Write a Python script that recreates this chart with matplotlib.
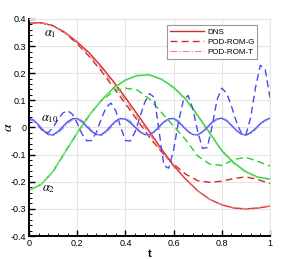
import matplotlib
matplotlib.use("Agg")
import matplotlib.pyplot as plt
from matplotlib.ticker import MultipleLocator

plt.rcParams['font.family'] = ['Liberation Sans', 'DejaVu Sans']
plt.rcParams['mathtext.fontset'] = 'stix'

# coarse time grid for the smooth modes, fine grid for the a10 mode
t_c = [0.0, 0.05, 0.1, 0.15, 0.2, 0.25, 0.3, 0.35, 0.4, 0.45, 0.5,
       0.55, 0.6, 0.65, 0.7, 0.75, 0.8, 0.85, 0.9, 0.95, 1.0]
t_f = [i / 50 for i in range(51)]

# a1
a1_dns = [0.385, 0.386, 0.375, 0.350, 0.315, 0.275, 0.225, 0.170, 0.110, 0.048, -0.015,
          -0.080, -0.140, -0.190, -0.233, -0.265, -0.285, -0.297, -0.300, -0.297, -0.290]
a1_g = [0.385, 0.386, 0.375, 0.348, 0.308, 0.262, 0.208, 0.148, 0.088, 0.026, -0.036,
        -0.090, -0.135, -0.172, -0.196, -0.202, -0.198, -0.188, -0.182, -0.192, -0.207]
a1_t = [0.385, 0.386, 0.374, 0.348, 0.311, 0.268, 0.216, 0.160, 0.100, 0.038, -0.024,
        -0.087, -0.145, -0.193, -0.234, -0.265, -0.284, -0.296, -0.299, -0.296, -0.289]

# a2
a2_dns = [-0.232, -0.210, -0.162, -0.090, -0.020, 0.045, 0.100, 0.145, 0.175, 0.192, 0.194,
          0.178, 0.148, 0.105, 0.045, -0.020, -0.085, -0.130, -0.163, -0.183, -0.190]
a2_g = [-0.232, -0.210, -0.162, -0.090, -0.020, 0.045, 0.098, 0.133, 0.145, 0.138, 0.105,
        0.055, 0.005, -0.045, -0.105, -0.135, -0.140, -0.118, -0.110, -0.125, -0.142]
a2_t = [-0.232, -0.210, -0.162, -0.091, -0.021, 0.044, 0.098, 0.142, 0.172, 0.189, 0.191,
        0.175, 0.144, 0.100, 0.040, -0.025, -0.090, -0.135, -0.167, -0.186, -0.193]

# a10
a10_dns = [0.034, 0.027, 0.009, -0.012, -0.026, -0.027, -0.015, 0.003, 0.021, 0.032,
           0.033, 0.021, 0.003, -0.015, -0.026, -0.027, -0.013, 0.006, 0.024, 0.033,
           0.031, 0.018, 0.001, -0.016, -0.026, -0.027, -0.015, 0.003, 0.021, 0.032,
           0.033, 0.021, 0.003, -0.015, -0.026, -0.027, -0.016, 0.001, 0.019, 0.031,
           0.034, 0.025, 0.008, -0.011, -0.024, -0.028, -0.019, -0.004, 0.014, 0.027,
           0.034]
a10_g = [0.030, 0.024, 0.005, -0.016, -0.019, 0.000, 0.029, 0.053, 0.062, 0.049,
         0.016, -0.024, -0.049, -0.048, -0.017, 0.032, 0.074, 0.090, 0.062, 0.002,
         -0.048, -0.050, -0.017, 0.038, 0.092, 0.125, 0.111, -0.015, -0.141, -0.150,
         -0.083, 0.019, 0.098, 0.118, 0.069, -0.014, -0.077, -0.074, 0.005, 0.101,
         0.145, 0.127, 0.079, 0.023, -0.019, -0.027, 0.037, 0.147, 0.229, 0.215,
         0.110]
a10_t = [0.030, 0.025, 0.010, -0.008, -0.022, -0.030, -0.022, -0.005, 0.014, 0.028,
         0.034, 0.026, 0.009, -0.010, -0.024, -0.030, -0.020, 0.000, 0.019, 0.031,
         0.034, 0.024, 0.006, -0.012, -0.025, -0.030, -0.019, -0.001, 0.017, 0.030,
         0.035, 0.025, 0.007, -0.012, -0.025, -0.029, -0.020, -0.003, 0.015, 0.029,
         0.036, 0.028, 0.011, -0.008, -0.022, -0.030, -0.023, -0.008, 0.010, 0.024,
         0.032]

red = '#d42a2a'
green = '#2ccc2c'
blue = '#4a4af0'

fig = plt.figure(figsize=(2.91, 2.59), dpi=100)
ax = fig.add_axes([0.0997, 0.0888, 0.828, 0.838])

ax.plot(t_c, a1_dns, color=red, lw=1.0, label='DNS')
ax.plot(t_c, a1_g, color=red, lw=1.0, ls=(0, (5, 3)), label='POD-ROM-G')
ax.plot(t_c, a1_t, color='#ee8080', lw=0.8, ls=(0, (6, 2, 1, 2)), label='POD-ROM-T')

ax.plot(t_c, a2_dns, color=green, lw=1.0)
ax.plot(t_c, a2_g, color=green, lw=1.0, ls=(0, (5, 3)))
ax.plot(t_c, a2_t, color='#90e890', lw=0.8, ls=(0, (6, 2, 1, 2)))

ax.plot(t_f, a10_dns, color=blue, lw=1.0)
ax.plot(t_f, a10_g, color=blue, lw=1.0, ls=(0, (5, 3)))
ax.plot(t_f, a10_t, color='#9090f4', lw=0.8, ls=(0, (6, 2, 1, 2)))

ax.set_xlim(0, 1)
ax.set_ylim(-0.4, 0.4)
ax.set_xticks([0, 0.2, 0.4, 0.6, 0.8, 1.0])
ax.set_xticklabels(['0', '0.2', '0.4', '0.6', '0.8', '1'])
ax.set_yticks([-0.4, -0.3, -0.2, -0.1, 0, 0.1, 0.2, 0.3, 0.4])
ax.set_yticklabels(['-0.4', '-0.3', '-0.2', '-0.1', '0', '0.1', '0.2', '0.3', '0.4'])
ax.xaxis.set_minor_locator(MultipleLocator(0.04))
ax.yaxis.set_minor_locator(MultipleLocator(0.02))
ax.tick_params(which='both', direction='in', top=False, right=False, labelsize=6.5, pad=2)
ax.tick_params(which='major', length=4, width=1)
ax.tick_params(which='minor', length=2, width=0.7)
ax.grid(True, color='#e4e4e4', lw=0.8)
ax.set_axisbelow(True)
for s in ['left', 'bottom']:
    ax.spines[s].set_linewidth(1.4)
for s in ['top', 'right']:
    ax.spines[s].set_color('#e4e4e4')
    ax.spines[s].set_linewidth(0.8)

ax.set_xlabel('t', fontsize=8, fontweight='bold', labelpad=1)
fig.text(0.005, 0.51, r'$\alpha$', fontsize=10, rotation=90, va='center', ha='left')

ax.text(0.063, 0.335, r'$\alpha_1$', fontsize=9)
ax.text(0.05, 0.022, r'$\alpha_{10}$', fontsize=9)
ax.text(0.055, -0.235, r'$\alpha_2$', fontsize=9)

leg = ax.legend(loc='upper right', bbox_to_anchor=(0.965, 0.99), fontsize=5.8,
                handlelength=4.2, handletextpad=0.4, borderpad=0.4, labelspacing=0.3,
                fancybox=False, framealpha=1)
leg.get_frame().set_edgecolor('#999999')
leg.get_frame().set_linewidth(0.8)

fig.savefig('out.png', dpi=100)
